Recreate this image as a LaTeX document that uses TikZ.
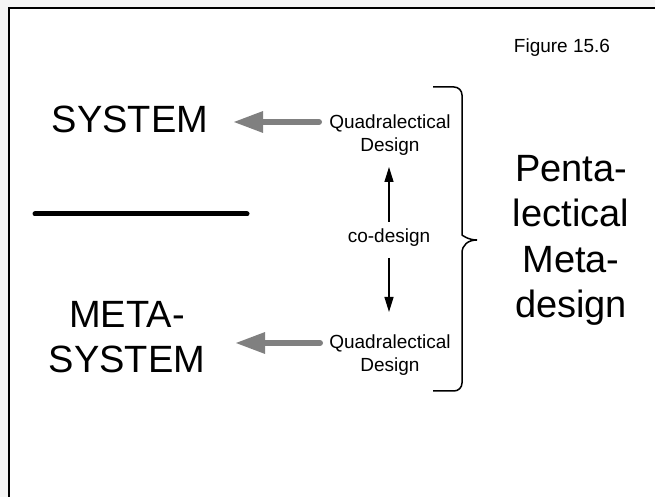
\documentclass[tikz,border=0pt]{standalone}
\usepackage{fontspec}
\setmainfont{Liberation Sans}
\usetikzlibrary{arrows.meta}

\begin{document}
\begin{tikzpicture}[x=1pt, y=1pt,
	big/.style={font=\fontsize{38}{45.5}\selectfont, align=center, inner sep=0pt},
	small/.style={font=\fontsize{19}{23}\selectfont, align=center, inner sep=0pt},
	feed/.style={draw=black!50, line width=6pt, line cap=round, -{Triangle[width=20pt, length=30pt]}},
	coarrow/.style={draw=black, line width=1.3pt, -{Triangle[width=9pt, length=15pt]}}]
\useasboundingbox (0,0) rectangle (655,497);
\fill[black!4] (0,0) rectangle (655,497);
\fill[white] (9,0) rectangle (655,489);
\draw[line width=1.5pt] (9,-2) -- (9,489) -- (657,489);

\node[small, anchor=base] (fig) at (562,444) {Figure 15.6};
\node[big, anchor=base] (sys) at (130,364) {SYSTEM};
\node[big, anchor=base] (meta) at (127,124) {META-\\SYSTEM};
\node[small, anchor=base] (q1) at (390,345) {Quadralectical\\Design};
\node[small, anchor=base] (q2) at (390,125) {Quadralectical\\Design};
\node[small] (co) at (389,259) {co-design};
\node[big, anchor=base] (penta) at (571,179) {Penta-\\lectical\\Meta-\\design};

\coordinate (a1) at (319,375);
\coordinate (b1) at (233,375);
\coordinate (a2) at (320,154);
\coordinate (b2) at (235,154);
\coordinate (u1) at (389,275);
\coordinate (u2) at (389,330);
\coordinate (d1) at (389,239);
\coordinate (d2) at (389,185);

\draw[line width=5pt, line cap=round] (35,283) -- (247,283);
\draw[feed] (a1) -- (b1);
\draw[feed] (a2) -- (b2);
\draw[coarrow] (u1) -- (u2);
\draw[coarrow] (d1) -- (d2);

\draw[line width=1.5pt, rounded corners=8pt] (433,410) -- (462,410) -- (462,270)
	[sharp corners] .. controls (462,262) and (468,257) .. (477,257)
	.. controls (468,257) and (462,252) .. (462,244)
	[rounded corners=8pt] -- (462,106) -- (433,106);
\end{tikzpicture}
\end{document}
